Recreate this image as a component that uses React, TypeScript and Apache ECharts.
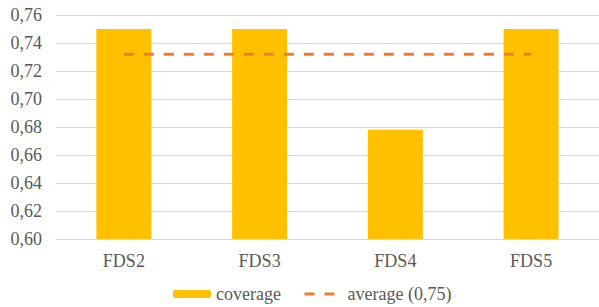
import React, { useEffect, useRef } from "react";
import * as echarts from "echarts";

const categories = ["FDS2", "FDS3", "FDS4", "FDS5"];
const coverage = [0.75, 0.75, 0.678, 0.75];
const average = [0.732, 0.732, 0.732, 0.732];
const yTickLabels = ["0,60", "0,62", "0,64", "0,66", "0,68", "0,70", "0,72", "0,74", "0,76"];
const coverageName = "coverage";
const averageName = "average (0,75)";

const FONT = "'Liberation Serif', 'Times New Roman', serif";
const TEXT = "#595959";

export default function App() {
  const ref = useRef<HTMLDivElement>(null);
  useEffect(() => {
    if (!ref.current) return;
    const chart = echarts.init(ref.current, undefined, { renderer: "svg" });
    chart.setOption({
      animation: false,
      backgroundColor: "#ffffff",
      grid: { left: 56, top: 15, width: 545, height: 224, containLabel: false },
      xAxis: {
        type: "category",
        data: categories,
        axisLine: { lineStyle: { color: "#D9D9D9", width: 1 } },
        axisTick: { show: false },
        axisLabel: { color: TEXT, fontFamily: FONT, fontSize: 18, margin: 13 },
      },
      yAxis: {
        type: "value",
        min: 0.6,
        max: 0.76,
        interval: 0.02,
        axisLine: { show: false },
        axisTick: { show: false },
        splitLine: { lineStyle: { color: "#D9D9D9", width: 1 } },
        axisLabel: {
          color: TEXT,
          fontFamily: FONT,
          fontSize: 18,
          margin: 14,
          formatter: (v: number) => {
            const i = Math.round((v - 0.6) / 0.02);
            return yTickLabels[i] ?? v.toFixed(2).replace(".", ",");
          },
        },
      },
      legend: [
        {
          data: [coverageName],
          left: 173,
          top: 284,
          itemWidth: 38,
          itemHeight: 8,
          itemGap: 5,
          padding: 0,
          textStyle: { color: TEXT, fontFamily: FONT, fontSize: 18, lineHeight: 20 },
        },
        {
          data: [averageName],
          left: 303,
          top: 284,
          itemWidth: 38,
          itemHeight: 8,
          padding: 0,
          itemStyle: { opacity: 0 },
          lineStyle: { color: "#ED7D31", width: 3, type: [10, 10] },
          textStyle: { color: TEXT, fontFamily: FONT, fontSize: 18, lineHeight: 20 },
        },
      ],
      series: [
        {
          name: coverageName,
          type: "bar",
          data: coverage,
          barWidth: 55,
          itemStyle: { color: "#FFC000" },
        },
        {
          name: averageName,
          type: "line",
          data: average,
          symbol: "none",
          lineStyle: { color: "#ED7D31", width: 3, type: [10, 10] },
          itemStyle: { color: "#ED7D31" },
          z: 5,
        },
      ],
    });
    return () => chart.dispose();
  }, []);
  return (
    <div
      ref={ref}
      style={{ position: "absolute", left: 0, top: 0, width: 599, height: 307 }}
    />
  );
}
